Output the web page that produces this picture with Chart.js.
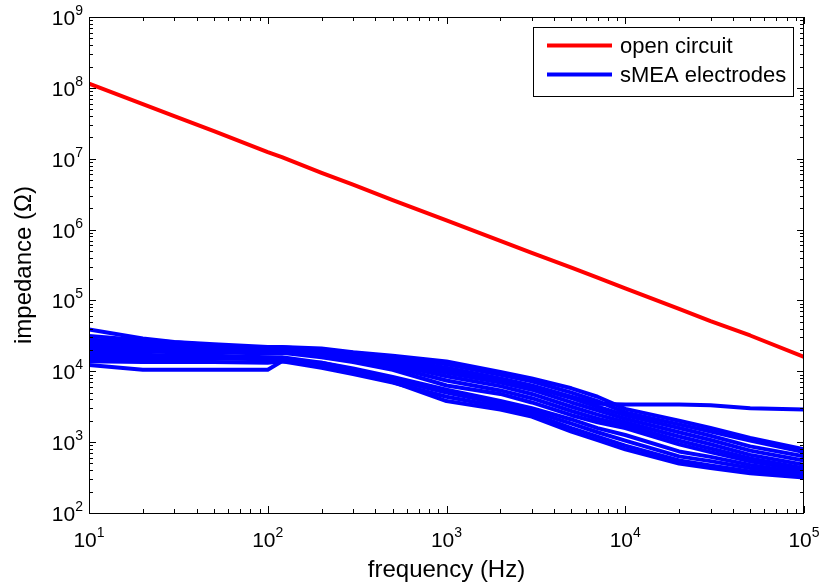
<!DOCTYPE html>
<html><head><meta charset="utf-8">
<script src="https://cdn.jsdelivr.net/npm/chart.js@4.4.0/dist/chart.umd.min.js"></script>
<style>html,body{margin:0;padding:0;background:#fff}canvas{display:block}</style>
</head><body>
<canvas id="c" width="820" height="585"></canvas>
<script>
// ---- data ----
const frequencies = [10, 20, 30, 50, 100, 120, 200, 300, 500, 1000, 2000, 3000, 5000, 7000, 10000, 20000, 30000, 50000, 100000];
const openCircuit = [1.15e8, 5.9e7, 4.0e7, 2.45e7, 1.24e7, 1.05e7, 6.3e6, 4.3e6, 2.6e6, 1.35e6, 6.9e5, 4.7e5, 2.9e5, 2.1e5, 1.48e5, 7.6e4, 5.1e4, 3.2e4, 1.6e4];
const electrode01 = [39000, 29000, 26000, 24000, 22000, 22000, 21000, 18600, 16600, 13800, 9800, 7900, 5750, 4370, 2950, 2000, 1580, 1150, 790];
const electrode02 = [31600, 27500, 25700, 23400, 21400, 21900, 20000, 18200, 15800, 12600, 8900, 7240, 5010, 3800, 2630, 1780, 1410, 1050, 724];
const electrode03 = [18200, 18600, 19100, 19100, 18600, 19100, 18200, 16600, 14500, 11200, 7940, 6310, 4370, 3470, 3390, 3390, 3310, 3020, 2880];
const electrode04 = [28200, 25100, 23400, 21900, 20400, 20900, 19500, 17400, 14800, 10500, 7590, 6030, 4170, 3160, 2400, 1580, 1230, 871, 631];
const electrode05 = [26300, 24000, 22900, 21400, 20000, 20400, 18600, 16600, 13800, 9550, 6920, 5500, 3630, 2820, 2140, 1380, 1070, 759, 550];
const electrode06 = [24000, 22400, 21400, 20400, 19100, 20000, 17800, 15800, 12600, 8510, 6170, 4790, 3160, 2450, 1910, 1200, 933, 661, 479];
const electrode07 = [21400, 20900, 20000, 19500, 18200, 19100, 17000, 14800, 11500, 7410, 5370, 4170, 2750, 2140, 1740, 1050, 813, 589, 427];
const electrode08 = [20000, 19100, 18600, 18600, 17800, 18200, 15800, 13500, 10500, 6310, 4790, 3630, 2400, 1910, 1580, 933, 724, 537, 398];
const electrode09 = [16600, 16600, 16600, 16600, 15800, 15800, 13200, 11000, 8320, 5500, 3800, 3020, 2090, 1580, 1260, 740, 620, 478, 363];
const electrode10 = [15100, 15100, 15100, 15100, 14800, 14800, 12000, 10000, 7590, 5010, 3470, 2750, 1820, 1380, 1050, 630, 540, 432, 347];
const electrode11 = [13800, 13500, 13500, 13500, 13200, 13800, 11200, 9120, 6920, 4370, 3160, 2510, 1580, 1200, 891, 550, 470, 385, 331];
const electrode12 = [12300, 10500, 10500, 10500, 10500, 13800, 13200, 10500, 7080, 3800, 2880, 2290, 1410, 1070, 794, 500, 430, 365, 316];
const electrodes = [electrode01, electrode02, electrode03, electrode04, electrode05, electrode06,
                    electrode07, electrode08, electrode09, electrode10, electrode11, electrode12];
const xTickExponents = [1, 2, 3, 4, 5];
const yTickExponents = [2, 3, 4, 5, 6, 7, 8, 9];
const xTitle = 'frequency (Hz)';
const yTitle = 'impedance (\u03A9)';
const openLabel = 'open circuit';
const electrodeLabel = 'sMEA electrodes';

// ---- chart ----
const FONT = '"Liberation Sans", Arial, Helvetica, sans-serif';
const toPts = arr => arr.map((v, i) => ({x: frequencies[i], y: v}));

const datasets = [{
  label: openLabel, data: toPts(openCircuit), borderColor: '#ff0000', borderWidth: 4
}].concat(electrodes.map(e => ({
  label: electrodeLabel, data: toPts(e), borderColor: '#0000ff', borderWidth: 4
})));
datasets.forEach(d => { d.pointRadius = 0; d.tension = 0; d.fill = false; d.borderJoinStyle = 'round'; d.borderCapStyle = 'butt'; });

function drawPow(ctx, exp, x, y, mode) {
  ctx.font = '21px ' + FONT;
  const w1 = ctx.measureText('10').width;
  ctx.font = '14px ' + FONT;
  const w2 = ctx.measureText(String(exp)).width;
  const w = w1 + w2;
  let sx, by;
  if (mode === 'x') { sx = x - w / 2; by = y + 34; }
  else { sx = x - w; by = y + 8; }
  ctx.textAlign = 'left';
  ctx.textBaseline = 'alphabetic';
  ctx.font = '21px ' + FONT;
  ctx.fillText('10', sx, by);
  ctx.font = '14px ' + FONT;
  ctx.fillText(String(exp), sx + w1, by - 10);
}

const decor = {
  id: 'decor',
  afterDatasetsDraw(chart) {
    const {ctx, chartArea: a, scales: {x, y}} = chart;
    ctx.save();
    ctx.strokeStyle = '#000';
    ctx.fillStyle = '#000';
    ctx.lineWidth = 1;
    ctx.beginPath();
    xTickExponents.forEach(e => {
      for (let m = 1; m <= 9; m++) {
        const v = m * Math.pow(10, e);
        if (v > x.max * 1.0001) break;
        const px = Math.round(x.getPixelForValue(v)) + 0.5;
        const len = m === 1 ? 7 : 4;
        ctx.moveTo(px, a.bottom); ctx.lineTo(px, a.bottom - len);
        ctx.moveTo(px, a.top); ctx.lineTo(px, a.top + len);
      }
    });
    yTickExponents.forEach(e => {
      for (let m = 1; m <= 9; m++) {
        const v = m * Math.pow(10, e);
        if (v > y.max * 1.0001) break;
        const py = Math.round(y.getPixelForValue(v)) + 0.5;
        const len = m === 1 ? 7 : 4;
        ctx.moveTo(a.left, py); ctx.lineTo(a.left + len, py);
        ctx.moveTo(a.right, py); ctx.lineTo(a.right - len, py);
      }
    });
    ctx.stroke();
    ctx.strokeRect(a.left + 0.5, a.top + 0.5, a.right - a.left - 1, a.bottom - a.top);
    xTickExponents.forEach(e => drawPow(ctx, e, x.getPixelForValue(Math.pow(10, e)), a.bottom, 'x'));
    yTickExponents.forEach(e => drawPow(ctx, e, a.left - 6, y.getPixelForValue(Math.pow(10, e)), 'y'));
    ctx.font = '24px ' + FONT;
    ctx.textAlign = 'center';
    ctx.textBaseline = 'alphabetic';
    ctx.fillText(xTitle, (a.left + a.right) / 2, 577);
    ctx.save();
    ctx.translate(31, (a.top + a.bottom) / 2);
    ctx.rotate(-Math.PI / 2);
    ctx.fillText(yTitle, 0, 0);
    ctx.restore();
    const seen = [];
    chart.data.datasets.forEach(d => { if (!seen.find(s => s.label === d.label)) seen.push(d); });
    const bx = 533.5, by = 27.5, bw = 260, bh = 69;
    ctx.fillStyle = '#fff';
    ctx.fillRect(bx, by, bw, bh);
    ctx.strokeStyle = '#000';
    ctx.lineWidth = 1;
    ctx.strokeRect(bx, by, bw, bh);
    ctx.font = '22px ' + FONT;
    ctx.textAlign = 'left';
    ctx.textBaseline = 'middle';
    seen.forEach((d, i) => {
      const ly = 45.5 + i * 29;
      ctx.strokeStyle = d.borderColor;
      ctx.lineWidth = 4;
      ctx.beginPath();
      ctx.moveTo(547, ly); ctx.lineTo(612, ly);
      ctx.stroke();
      ctx.fillStyle = '#000';
      ctx.fillText(d.label, 620, ly + 1);
    });
    ctx.restore();
  }
};

new Chart(document.getElementById('c'), {
  type: 'line',
  data: {datasets},
  options: {
    responsive: false,
    animation: false,
    devicePixelRatio: 1,
    layout: {padding: {left: 89, right: 16, top: 17, bottom: 72}},
    plugins: {legend: {display: false}, tooltip: {enabled: false}},
    scales: {
      x: {type: 'logarithmic', min: 10, max: 100000, display: false},
      y: {type: 'logarithmic', min: 100, max: 1e9, display: false}
    }
  },
  plugins: [decor]
});
</script>
</body></html>
